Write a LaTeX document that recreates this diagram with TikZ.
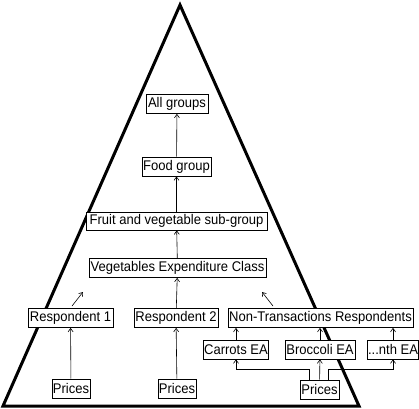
\documentclass[tikz,border=0pt]{standalone}
\usepackage{fontspec}
\setmainfont[FakeStretch=0.93]{Liberation Sans}
\usetikzlibrary{arrows.meta}
\begin{document}
\begin{tikzpicture}[x=1pt,y=-1pt,
 box/.style={draw,fill=white,line width=0.7pt,inner sep=0.5pt,minimum height=19pt,font=\fontsize{14}{16}\selectfont,anchor=center},
 arr/.style={line width=0.6pt,-{Straight Barb[length=3.5pt,width=5pt]}}]
\useasboundingbox (0,0) rectangle (419,408);
\draw[line width=3pt,line join=miter] (180,5) -- (3,406) -- (359,406) -- cycle;
\node[box,minimum width=62pt] (all) at (177,104) {All groups};
\node[box,minimum width=69pt] (food) at (176.5,166.5) {Food group};
\node[box,minimum width=181pt,minimum height=18pt] (fruit) at (176.5,221) {Fruit and vegetable sub-group};
\node[box,minimum width=177pt] (veg) at (177.5,268) {Vegetables Expenditure Class};
\node[box,minimum width=85pt] (r1) at (70.5,318) {Respondent 1};
\node[box,minimum width=84pt] (r2) at (176,318) {Respondent 2};
\node[box,minimum width=185pt] (nt) at (320.5,318) {Non-Transactions Respondents};
\node[box,minimum width=64pt] (car) at (236,349.5) {Carrots EA};
\node[box,minimum width=70pt] (bro) at (320,349.5) {Broccoli EA};
\node[box,minimum width=51pt] (nth) at (393,349.5) {...nth EA};
\node[box,minimum width=38pt] (p1) at (71,388.5) {Prices};
\node[box,minimum width=38pt] (p2) at (177,388.5) {Prices};
\node[box,minimum width=39pt] (p3) at (319.5,389.5) {Prices};
\coordinate (r1a) at (72,306);
\coordinate (r1b) at (83,292);
\coordinate (nta) at (273,306);
\coordinate (ntb) at (262,292);
\draw[arr] (p1) -- (r1);
\draw[arr] (p2) -- (r2);
\draw[arr] (r2) -- (veg);
\draw[arr] (veg) -- (fruit);
\draw[arr] (fruit) -- (food);
\draw[arr] (food) -- (all);
\draw[arr] (r1a) -- (r1b);
\draw[arr] (nta) -- (ntb);
\draw[arr] (car.north) -- (car.north |- nt.south);
\draw[arr] (bro.north) -- (bro.north |- nt.south);
\draw[arr] (nth.north) -- (nth.north |- nt.south);
\draw[arr] (p3) -- (bro);
\draw[arr] ([xshift=-10pt]p3.north) -- ++(0,-10) -| (car.south);
\draw[arr] ([xshift=9pt]p3.north) -- ++(0,-10) -| (nth.south);
\end{tikzpicture}
\end{document}
